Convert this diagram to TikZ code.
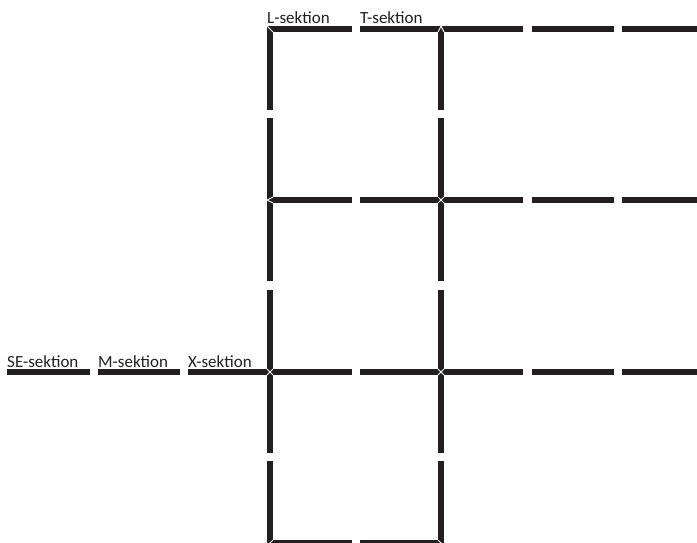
\documentclass[tikz,border=0pt]{standalone}
\usepackage{fontspec}
\setmainfont{Carlito}
\usetikzlibrary{positioning}
\definecolor{barblack}{HTML}{231F20}

\begin{document}
\begin{tikzpicture}[x=1pt,y=-1pt,
  every node/.style={font=\fontsize{17}{20}\selectfont,inner sep=0pt,
                     anchor=base west,text=barblack},
  bar/.style ={draw=barblack,line width=6pt},
  seam/.style={draw=white,line width=0.9pt},
]
\useasboundingbox (0,0) rectangle (697,542);

% junctions of the grid
\coordinate (tl) at (270,29);
\coordinate (tt) at (441,29);
\coordinate (ml) at (270,200);
\coordinate (mx) at (441,200);
\coordinate (xl) at (270,372);
\coordinate (xx) at (441,372);
\coordinate (bl) at (270,543);
\coordinate (br) at (441,543);

% horizontal sections
\foreach \y in {29,200,372}{
  \foreach \a/\b in {270/352,360/441,441/523,532/614,622/700}
    \draw[bar] (\a,\y) -- (\b,\y);
}
\foreach \a/\b in {7/90,98/180,188/270}
  \draw[bar] (\a,372) -- (\b,372);
\foreach \a/\b in {270/352,360/441}
  \draw[bar] (\a,543) -- (\b,543);

% vertical sections
\foreach \x in {270,441}{
  \foreach \a/\b in {26/110,118/200,200/281,290/372,372/453,461/546}
    \draw[bar] (\x,\a) -- (\x,\b);
}

% seams at the joints
\draw[seam] (tl) ++(-3,-3) -- ++(6,6);
\draw[seam] (tt) ++(-3,3) -- ++(3,-6) -- ++(3,6);
\draw[seam] (ml) ++(3,-3) -- ++(-6,3) -- ++(6,3);
\foreach \j in {mx,xl,xx}{
  \draw[seam] (\j) ++(-3,-3) -- ++(6,6);
  \draw[seam] (\j) ++(-3,3) -- ++(6,-6);
}
\draw[seam] (bl) ++(-3,3) -- ++(6,-6);
\draw[seam] (br) ++(-3,-3) -- ++(6,6);

% labels
\node (lsek)  at (267,23)  {L-sektion};
\node (tsek)  at (360,23)  {T-sektion};
\node (sesek) at (7,367)   {SE-sektion};
\node (msek)  at (98,367)  {M-sektion};
\node (xsek)  at (188,367) {X-sektion};
\end{tikzpicture}
\end{document}
